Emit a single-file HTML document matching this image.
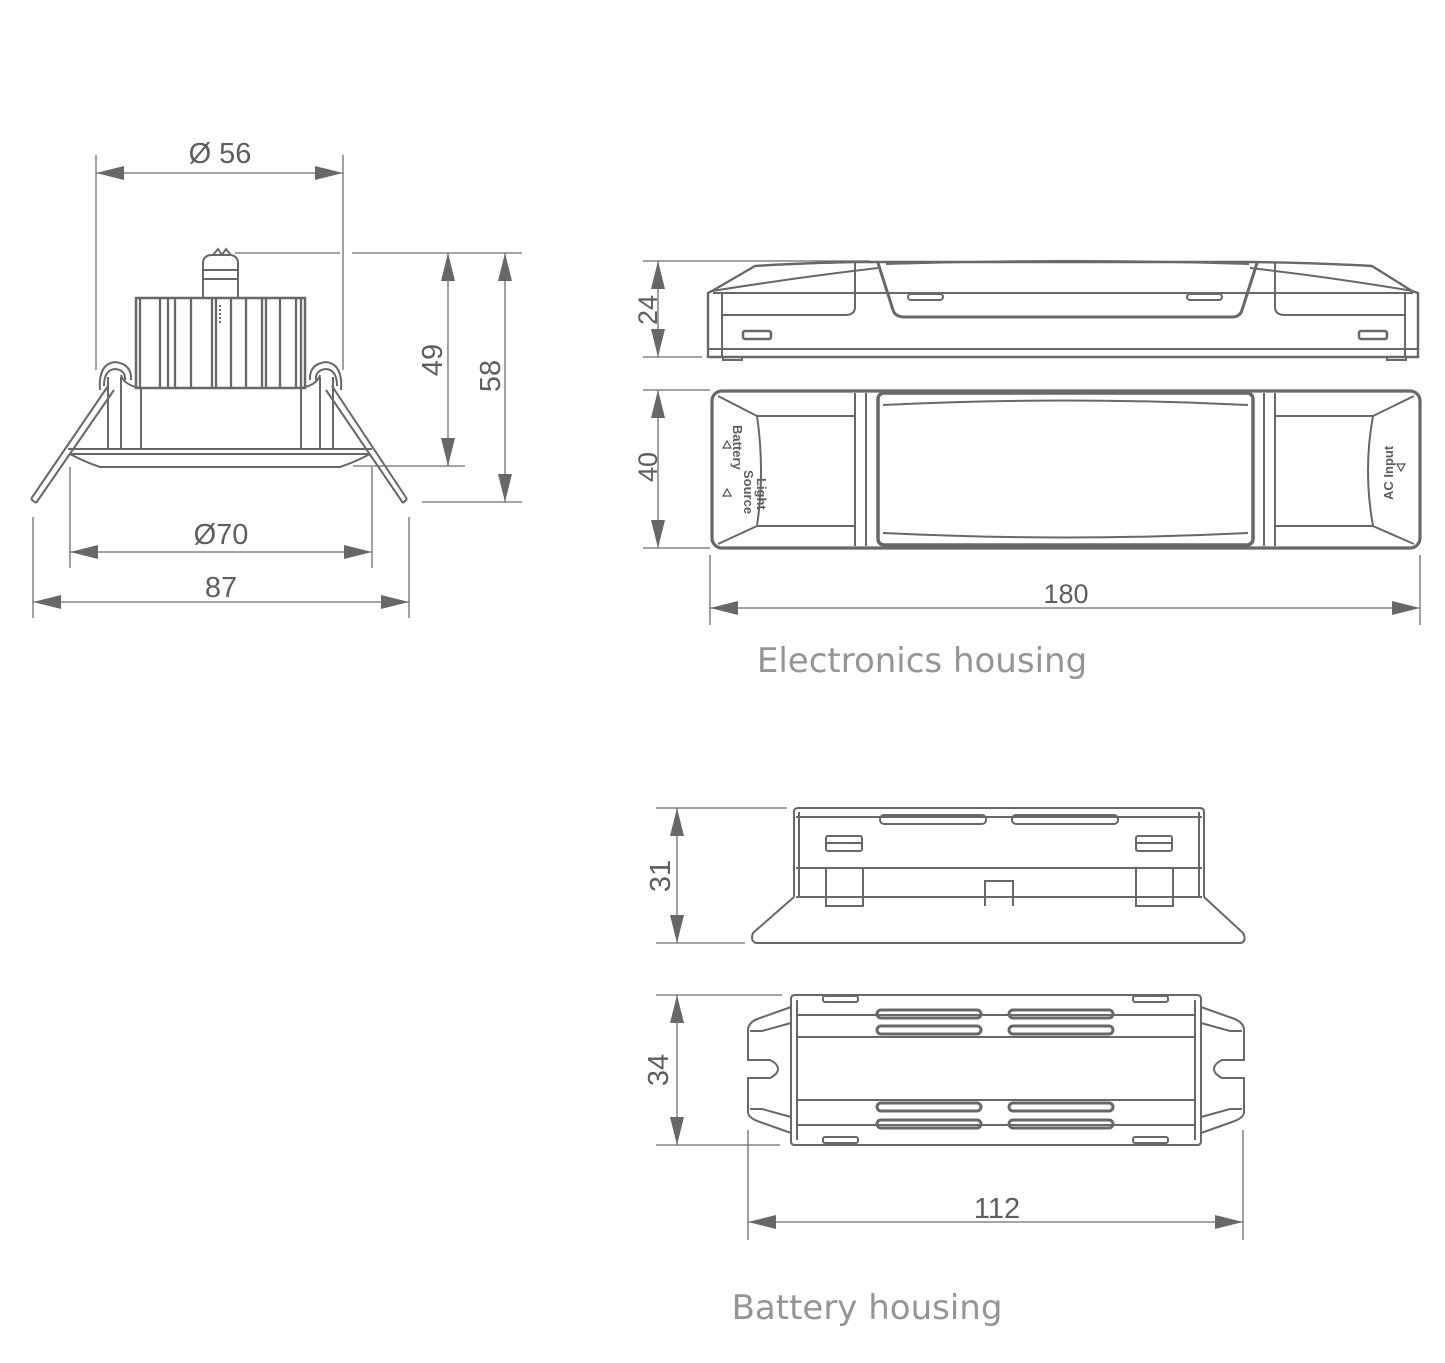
<!DOCTYPE html>
<html><head><meta charset="utf-8"><style>
html,body{margin:0;padding:0;background:#fff;}
svg{display:block;}
text{font-family:"Liberation Sans",sans-serif;fill:#5d5e60;}
.t{font-family:"DejaVu Sans","Liberation Sans",sans-serif;fill:#939598;font-size:34px;}
</style></head><body>
<svg width="1445" height="1363" viewBox="0 0 1445 1363" xmlns="http://www.w3.org/2000/svg">
<defs>
<marker id="a" viewBox="0 0 28 14" refX="28" refY="7" markerWidth="28" markerHeight="14" markerUnits="userSpaceOnUse" orient="auto-start-reverse">
<path d="M0,0 L28,7 L0,14 Z" fill="#666869"/></marker>
</defs>
<g stroke="#6d6e70" fill="none" stroke-width="1.3">
<line x1="96" y1="155" x2="96" y2="370"/><line x1="343" y1="155" x2="343" y2="370"/>
<line x1="96" y1="173" x2="343" y2="173" marker-start="url(#a)" marker-end="url(#a)"/>
<line x1="235" y1="253" x2="340" y2="253"/><line x1="352" y1="253" x2="522" y2="253"/>
<line x1="353" y1="466" x2="465" y2="466"/><line x1="422" y1="502" x2="522" y2="502"/>
<line x1="448" y1="253" x2="448" y2="466" marker-start="url(#a)" marker-end="url(#a)"/>
<line x1="505" y1="253" x2="505" y2="502" marker-start="url(#a)" marker-end="url(#a)"/>
<line x1="70" y1="467" x2="70" y2="568"/><line x1="372" y1="467" x2="372" y2="568"/>
<line x1="70" y1="552" x2="372" y2="552" marker-start="url(#a)" marker-end="url(#a)"/>
<line x1="33" y1="517" x2="33" y2="618"/><line x1="409" y1="517" x2="409" y2="618"/>
<line x1="33" y1="602" x2="409" y2="602" marker-start="url(#a)" marker-end="url(#a)"/>
</g>
<g stroke="#666869" fill="none" stroke-width="2">
<path d="M203,298 V262 Q204,256 210,255 H231 Q237,256 238,262 V298"/>
<line x1="204" y1="270" x2="237" y2="270"/><line x1="204" y1="279" x2="237" y2="279"/>
<path d="M213,255 L218,249 L222,255 M222,255 L226,249 L231,255"/>
<rect x="136" y="298" width="169" height="90" stroke-width="2.5"/>
<path d="M140,298V388 M160,298V388 M168,298V388 M175,298V388 M191,298V388 M212,298V388 M216,298V388 M231,298V388 M246,298V388 M262,298V388 M266,298V388 M280,298V388 M296,298V388 M301,298V388" stroke-width="2.3"/>
<line x1="220" y1="305" x2="220" y2="325" stroke-dasharray="2 2"/>
<path d="M141,388 V449 M301,388 V449"/>
<path d="M108,377 V449 M121,377 V449 M320,377 V449 M333,377 V449"/>
<path d="M121,375 Q124,385 140,388 M320,375 Q317,385 301,388"/>
<path d="M100,390 Q98,364 115,362 Q132,364 131,380"/>
<path d="M104,386 Q104,370 115,369 Q126,370 125,380"/>
<path d="M341,390 Q343,364 326,362 Q309,364 310,380"/>
<path d="M337,386 Q337,370 326,369 Q315,370 316,380"/>
<path d="M108,386 L31,499 M114,390 L36,503 M31,499 L36,503"/>
<path d="M332,386 L407,499 M326,390 L403,503 M407,499 L403,503"/>
<path d="M68,449 H372 M70,454 H370"/>
<path d="M70,454 Q85,462 100,467 H340 Q355,462 370,454"/>
</g>
<g font-size="29">
<text x="220" y="163" text-anchor="middle">Ø 56</text>
<text x="221" y="544" text-anchor="middle">Ø70</text>
<text x="221" y="597" text-anchor="middle">87</text>
<text transform="translate(442,360) rotate(-90)" text-anchor="middle">49</text>
<text transform="translate(500,376) rotate(-90)" text-anchor="middle">58</text>
</g>

<g stroke="#6d6e70" fill="none" stroke-width="1.3">
<line x1="643" y1="261" x2="870" y2="261"/><line x1="643" y1="357" x2="702" y2="357"/>
<line x1="658" y1="261" x2="658" y2="357" marker-start="url(#a)" marker-end="url(#a)"/>
<line x1="643" y1="390" x2="710" y2="390"/><line x1="643" y1="548" x2="710" y2="548"/>
<line x1="658" y1="390" x2="658" y2="548" marker-start="url(#a)" marker-end="url(#a)"/>
<line x1="710" y1="555" x2="710" y2="625"/><line x1="1420" y1="555" x2="1420" y2="625"/>
<line x1="710" y1="608" x2="1420" y2="608" marker-start="url(#a)" marker-end="url(#a)"/>
</g>
<g stroke="#666869" fill="none" stroke-width="2">
<path d="M708,357 V293 L712,291 L755,266 Q800,263 856,262 L1250,262 Q1320,263 1372,266 L1412,291 L1418,293 V357 Z" stroke-width="2.4"/>
<path d="M709,349 H1417 M722,293 V357 M1405,293 V357 M713,293 H1413"/>
<path d="M712,291 Q800,277 878,268 M1413,291 Q1330,277 1250,268"/>
<path d="M878,263 L893,310 Q895,317 905,317 H1232 Q1240,317 1242,310 L1257,263" stroke-width="3"/>
<path d="M886,264 Q1066,258 1249,264"/>
<path d="M855,263 V307 Q855,315 845,315 H722 M1275,263 V307 Q1275,315 1285,315 H1405"/>
<rect x="743" y="331" width="28" height="8" rx="2" stroke-width="2.5"/><rect x="1359" y="331" width="28" height="8" rx="2" stroke-width="2.5"/>
<rect x="908" y="294" width="35" height="6" rx="3"/><rect x="1187" y="294" width="35" height="6" rx="3"/>
<path d="M723,357 V360 H742 V357 M1387,357 V360 H1406 V357"/>
<rect x="712" y="391" width="708" height="157" rx="10" stroke-width="3.2"/>
<path d="M718,396 L757,416 Q765,470 757,526 L718,544"/>
<path d="M757,416 H855 M757,526 H855"/>
<path d="M1414,396 L1373,416 Q1363,470 1373,526 L1414,544"/>
<path d="M1373,416 H1275 M1373,526 H1275"/>
<path d="M855,393 V546 M866,393 V546 M1264,393 V546 M1275,393 V546"/>
<rect x="878" y="393" width="375" height="152" rx="6" stroke-width="3.5"/>
<path d="M883,405 Q1066,396 1248,405 M883,533 Q1066,542 1248,533"/>
</g>
<g font-size="13" font-weight="bold" fill="#555">
<text transform="translate(733,425) rotate(90)">Battery</text>
<text transform="translate(757,478) rotate(90)">Light</text>
<text transform="translate(744,470) rotate(90)">Source</text>
<text transform="translate(1393,500) rotate(-90)">AC Input</text>
</g>
<g stroke="#555" fill="none" stroke-width="1.2">
<path d="M723,448 L731,448 L727,441 Z M723,496 L731,496 L727,489 Z M1397,464 L1405,464 L1401,471 Z"/>
</g>
<g font-size="27">
<text transform="translate(657,310) rotate(-90)" text-anchor="middle">24</text>
<text transform="translate(657,467) rotate(-90)" text-anchor="middle">40</text>
<text x="1066" y="603" text-anchor="middle">180</text>
</g>
<text class="t" x="922" y="672" text-anchor="middle">Electronics housing</text>

<g stroke="#6d6e70" fill="none" stroke-width="1.3">
<line x1="656" y1="808" x2="787" y2="808"/><line x1="656" y1="943" x2="745" y2="943"/>
<line x1="677" y1="808" x2="677" y2="943" marker-start="url(#a)" marker-end="url(#a)"/>
<line x1="656" y1="995" x2="782" y2="995"/><line x1="656" y1="1145" x2="780" y2="1145"/>
<line x1="677" y1="995" x2="677" y2="1145" marker-start="url(#a)" marker-end="url(#a)"/>
<line x1="748" y1="1130" x2="748" y2="1240"/><line x1="1243" y1="1130" x2="1243" y2="1240"/>
<line x1="748" y1="1222" x2="1243" y2="1222" marker-start="url(#a)" marker-end="url(#a)"/>
</g>
<g stroke="#666869" fill="none" stroke-width="2">
<path d="M794,897 V812 Q794,808 798,808 H1200 Q1204,808 1204,812 V897"/>
<path d="M799,897 V812 M1199,897 V812 M796,817 H1202 M796,868 H1202 M796,897 H1202"/>
<path d="M794,897 L753,933 Q750,941 756,943 H1241 Q1247,941 1243,933 L1204,897"/>
<rect x="880" y="815" width="106" height="9" rx="4"/><rect x="1012" y="815" width="106" height="9" rx="4"/>
<rect x="826" y="836" width="36" height="15" rx="2"/><line x1="826" y1="843" x2="862" y2="843"/>
<rect x="1136" y="836" width="36" height="15" rx="2"/><line x1="1136" y1="843" x2="1172" y2="843"/>
<path d="M826,868 V906 H863 V868 M1136,868 V906 H1173 V868 M985,906 V881 H1013 V906"/>
<path d="M795,995 H1197 Q1201,995 1201,999 V1141 Q1201,1145 1197,1145 H795 Q791,1145 791,1141 V999 Q791,995 795,995 Z"/>
<path d="M797,1015 H1196 M797,1037 H1196 M797,1100 H1196 M797,1125 H1196 M797,1000 V1140 M1195,1000 V1140"/>
<path d="M791,1007 L760,1018 Q748,1022 748,1030 V1060 H770 Q778,1064 778,1069 Q778,1074 770,1078 H748 V1112 Q748,1118 760,1122 L791,1133"/>
<path d="M791,1023 L762,1031 H750 M791,1117 L762,1109 H750 M791,1028 V1115"/>
<path d="M1201,1007 L1232,1018 Q1244,1022 1244,1030 V1060 H1222 Q1214,1064 1214,1069 Q1214,1074 1222,1078 H1244 V1112 Q1244,1118 1232,1122 L1201,1133"/>
<path d="M1201,1023 L1230,1031 H1242 M1201,1117 L1230,1109 H1242 M1201,1028 V1115"/>
<rect x="823" y="996" width="35" height="6" rx="2"/><rect x="1133" y="996" width="35" height="6" rx="2"/>
<rect x="823" y="1137" width="35" height="6" rx="2"/><rect x="1133" y="1137" width="35" height="6" rx="2"/>
<g stroke-width="3">
<rect x="877" y="1010" width="104" height="8" rx="4"/><rect x="1009" y="1010" width="104" height="8" rx="4"/>
<rect x="877" y="1026" width="104" height="8" rx="4"/><rect x="1009" y="1026" width="104" height="8" rx="4"/>
<rect x="877" y="1103" width="104" height="8" rx="4"/><rect x="1009" y="1103" width="104" height="8" rx="4"/>
<rect x="877" y="1120" width="104" height="8" rx="4"/><rect x="1009" y="1120" width="104" height="8" rx="4"/>
</g>
</g>
<g font-size="29">
<text transform="translate(670,876) rotate(-90)" text-anchor="middle">31</text>
<text transform="translate(668,1070) rotate(-90)" text-anchor="middle">34</text>
<text x="997" y="1218" text-anchor="middle">112</text>
</g>
<text class="t" x="867" y="1319" text-anchor="middle">Battery housing</text>
</svg>
</body></html>
